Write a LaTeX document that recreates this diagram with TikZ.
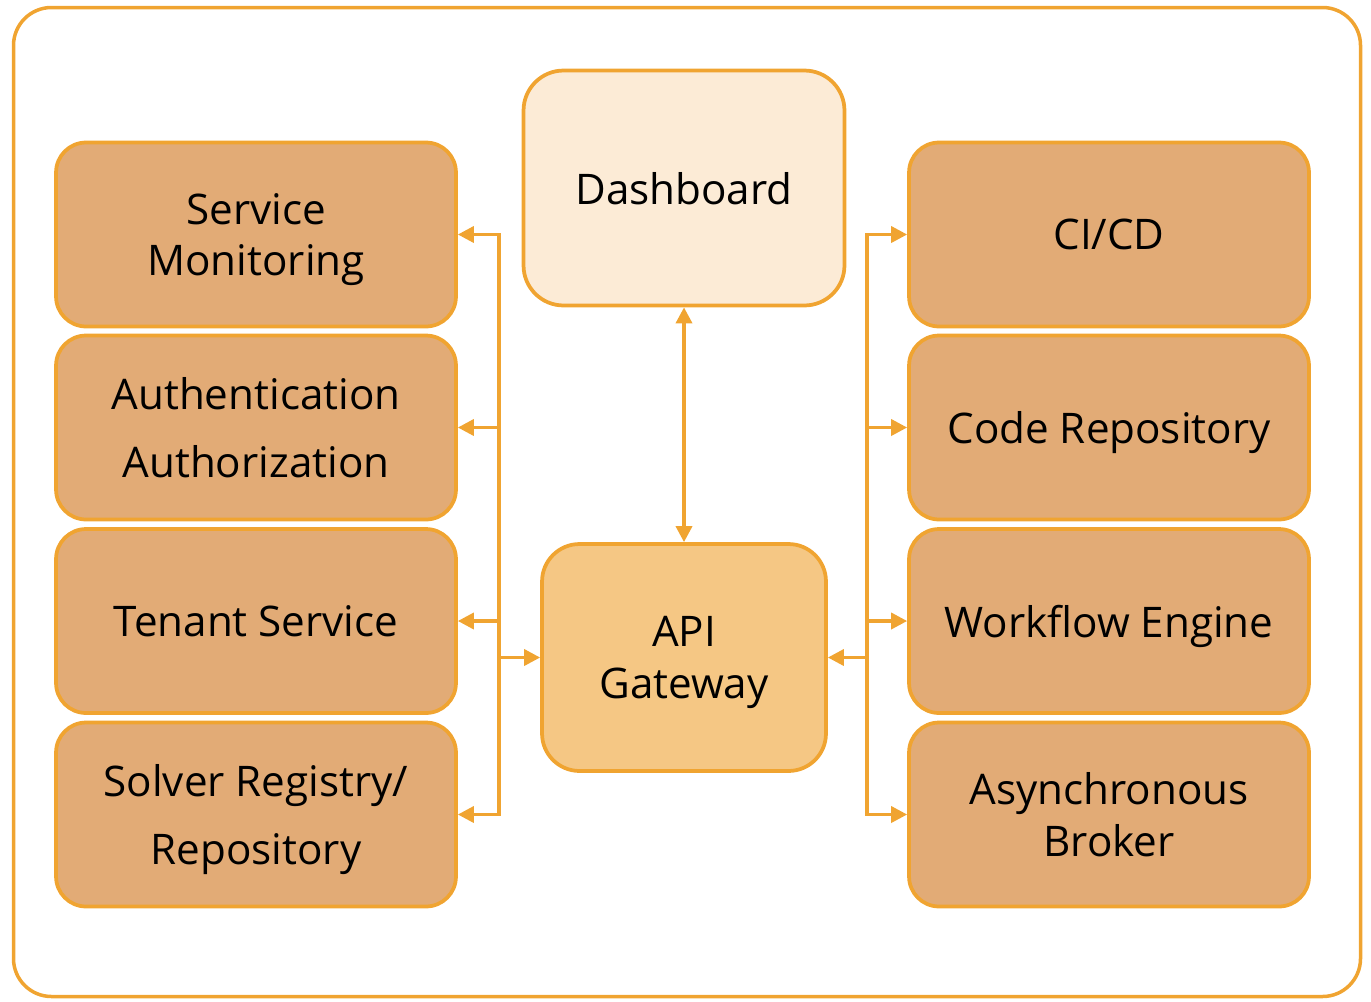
\documentclass[tikz,border=0pt]{standalone}
\usepackage{fontspec}
\setmainfont{Open Sans}
\usetikzlibrary{arrows.meta}
\definecolor{strk}{HTML}{F0A431}
\definecolor{sidefill}{HTML}{E2AB76}
\definecolor{dashfill}{HTML}{FCEBD6}
\definecolor{gwfill}{HTML}{F5C784}
\tikzset{
  box/.style={draw=strk, line width=0.075cm, rounded corners=0.6cm, inner sep=0pt,
     align=center, font=\fontsize{24}{29.5}\selectfont, text=black, text depth=0pt},
  sidebox/.style={box, fill=sidefill, minimum width=8cm, minimum height=3.68cm},
  arr/.style={draw=strk, line width=0.07cm, -{Triangle[length=0.32cm,width=0.32cm]}},
  dblarr/.style={draw=strk, line width=0.07cm, {Triangle[length=0.32cm,width=0.32cm]}-{Triangle[length=0.32cm,width=0.32cm]}},
  busline/.style={draw=strk, line width=0.07cm, line cap=rect}
}
\begin{document}
\begin{tikzpicture}[x=0.02cm,y=-0.02cm]
\useasboundingbox (0,0) rectangle (1371,1001);
\draw[strk, line width=0.07cm, rounded corners=0.76cm] (13.5,7.5) rectangle (1360.5,996.5);

% left column
\node[sidebox] (sm) at (256,234.5) {Service\\Monitoring};
\node[sidebox] (aa) at (256,427.5) {Authentication\\[9pt]Authorization};
\node[sidebox] (ts) at (256,621) {Tenant Service};
\node[sidebox] (sr) at (256,814.5) {Solver Registry/\\[9pt]Repository};

% right column
\node[sidebox] (ci) at (1109,234.5) {CI/CD};
\node[sidebox] (cr) at (1109,427.5) {Code Repository};
\node[sidebox] (we) at (1109,621) {Workflow Engine};
\node[sidebox] (ab) at (1109,814.5) {Asynchronous\\Broker};

% center
\node[box, fill=dashfill, minimum width=6.42cm, minimum height=4.7cm, rounded corners=0.8cm] (db) at (684,188) {Dashboard};
\node[box, fill=gwfill, minimum width=5.68cm, minimum height=4.54cm, rounded corners=0.75cm] (gw) at (684,657.5) {API\\Gateway};

% buses
\coordinate (lbus) at (499,0);
\coordinate (rbus) at (867,0);
\draw[busline] (sm.east -| lbus) -- (sr.east -| lbus);
\draw[busline] (ci.west -| rbus) -- (ab.west -| rbus);

\foreach \n in {sm,aa,ts,sr}{
  \draw[arr] (\n.east -| lbus) -- (\n.east);
}
\foreach \n in {ci,cr,we,ab}{
  \draw[arr] (\n.west -| rbus) -- (\n.west);
}
\draw[arr] (gw.west -| lbus) -- (gw.west);
\draw[arr] (gw.east -| rbus) -- (gw.east);
\draw[dblarr] (db.south) -- (gw.north);
\end{tikzpicture}
\end{document}
